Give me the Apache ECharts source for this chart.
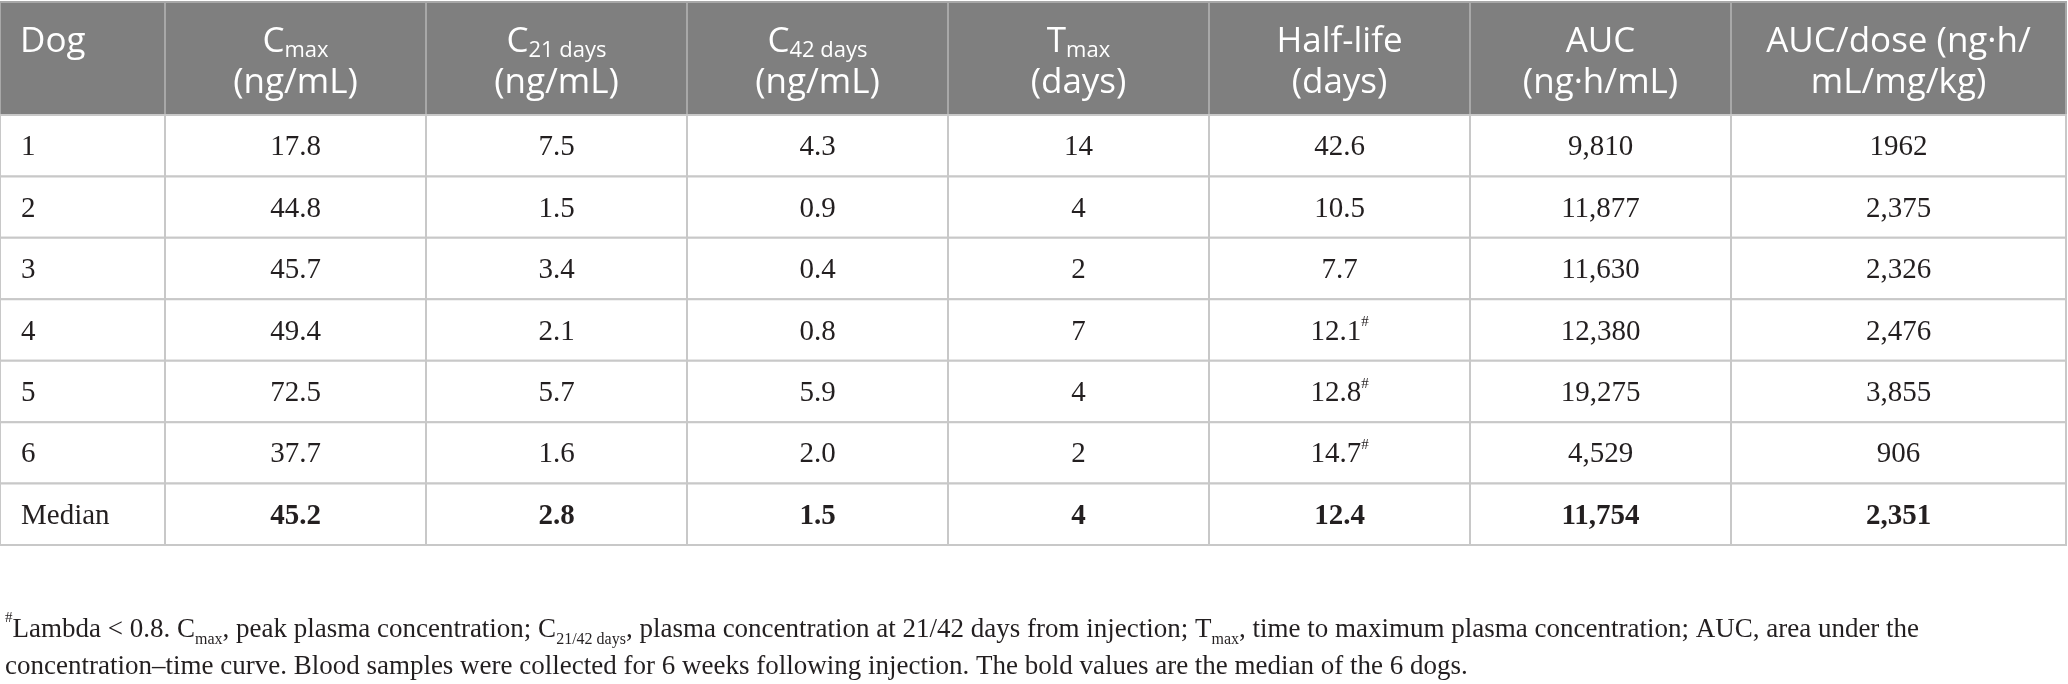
<!DOCTYPE html>
<html>
<head>
<meta charset="utf-8">
<script src="https://cdn.jsdelivr.net/npm/echarts@6/dist/echarts.min.js"></script>
<style>
html, body { margin: 0; padding: 0; background: #fff; }
#main { width: 2068px; height: 684px; }
</style>
</head>
<body>
<div id="main"></div>
<script>
// table values, one array per column
var dogs = ['1', '2', '3', '4', '5', '6', 'Median'];
var cmax = ['17.8', '44.8', '45.7', '49.4', '72.5', '37.7', '45.2'];
var c21 = ['7.5', '1.5', '3.4', '2.1', '5.7', '1.6', '2.8'];
var c42 = ['4.3', '0.9', '0.4', '0.8', '5.9', '2.0', '1.5'];
var tmax = ['14', '4', '2', '7', '4', '2', '4'];
var halfLife = ['42.6', '10.5', '7.7', '12.1', '12.8', '14.7', '12.4'];
var lambdaFlag = [false, false, false, true, true, true, false];
var auc = ['9,810', '11,877', '11,630', '12,380', '19,275', '4,529', '11,754'];
var aucDose = ['1962', '2,375', '2,326', '2,476', '3,855', '906', '2,351'];

var headLine1 = ['Dog', '{m|C}{s|max}', '{m|C}{s|21 days}', '{m|C}{s|42 days}', '{m|T}{s|max}', 'Half-life', 'AUC', 'AUC/dose (ng·h/'];
var headLine2 = ['', '(ng/mL)', '(ng/mL)', '(ng/mL)', '(days)', '(days)', '(ng·h/mL)', 'mL/mg/kg)'];

var footLine1 = '{sup|#}Lambda < 0.8. C{sub|max}, peak plasma concentration; C{sub|21/42 days}, plasma concentration at 21/42 days from injection; T{sub|max}, time to maximum plasma concentration; AUC, area under the';
var footLine2 = 'concentration–time curve. Blood samples were collected for 6 weeks following injection. The bold values are the median of the 6 dogs.';

// layout
var colWidths = [165, 261, 261, 261, 261, 261, 261, 335];
var colEdges = [0];
for (var i = 0; i < colWidths.length; i++) {
	colEdges.push(colEdges[i] + colWidths[i]);
}
var tableWidth = colEdges[colEdges.length - 1];

var bodyCols = [dogs, cmax, c21, c42, tmax, halfLife, auc, aucDose];
var bodyData = [];
for (var r = 0; r < dogs.length; r++) {
	for (var c = 0; c < bodyCols.length; c++) {
		bodyData.push([c, r]);
	}
}
var headData = headLine1.map(function (h, c) { return [c, 0]; });

var serif = '"Liberation Serif", "Times New Roman", serif';
var sans = '"Open Sans", "Noto Sans", sans-serif';

function cellBox(api) {
	var c = api.value(0), r = api.value(1);
	var a = api.coord([colEdges[c], r]);
	var b = api.coord([colEdges[c + 1], r]);
	var h = api.size([0, 1])[1];
	return { x: a[0], y: a[1] - h / 2, w: b[0] - a[0], h: h, c: c, r: r };
}

function renderHead(params, api) {
	var b = cellBox(api);
	var left = b.c === 0;
	var tx = left ? b.x + 20 : b.x + b.w / 2;
	var rich = {
		m: { fontSize: 35, fontFamily: sans, fill: '#fff', lineHeight: 40 },
		s: { fontSize: 22, fontFamily: sans, fill: '#fff', lineHeight: 27, verticalAlign: 'bottom' }
	};
	return {
		type: 'group',
		children: [
			{
				type: 'rect',
				shape: { x: b.x, y: b.y, width: b.w, height: b.h },
				style: { fill: '#7f7f7f', stroke: '#a8a8a8', lineWidth: 2 }
			},
			{
				type: 'text',
				x: tx, y: b.y + 40,
				style: {
					text: headLine1[b.c], fill: '#fff', fontSize: 35, fontFamily: sans,
					align: left ? 'left' : 'center', verticalAlign: 'middle', rich: rich
				}
			},
			{
				type: 'text',
				x: tx, y: b.y + 81,
				style: {
					text: headLine2[b.c], fill: '#fff', fontSize: 35, fontFamily: sans,
					align: left ? 'left' : 'center', verticalAlign: 'middle'
				}
			}
		]
	};
}

function renderBody(params, api) {
	var b = cellBox(api);
	var left = b.c === 0;
	var bold = b.r === dogs.length - 1 && b.c > 0;
	var txt = bodyCols[b.c][b.r];
	if (b.c === 5 && lambdaFlag[b.r]) txt += '{sup|#}';
	return {
		type: 'group',
		children: [
			{
				type: 'rect',
				shape: { x: b.x, y: b.y, width: b.w, height: b.h },
				style: { fill: '#fff', stroke: '#c8c8c8', lineWidth: 2 }
			},
			{
				type: 'text',
				x: left ? b.x + 21 : b.x + b.w / 2, y: b.y + b.h / 2 + 2,
				style: {
					text: txt, fill: '#231f20', fontSize: 29, fontFamily: serif,
					fontWeight: bold ? 'bold' : 'normal',
					align: left ? 'left' : 'center', verticalAlign: 'middle',
					rich: {
						sup: { fontSize: 15, fontFamily: serif, fill: '#231f20', lineHeight: 34, verticalAlign: 'top' }
					}
				}
			}
		]
	};
}

var chart = echarts.init(document.getElementById('main'));

var option = {
	animation: false,
	title: {
		left: 0,
		top: 606,
		text: footLine1 + '\n' + footLine2,
		textStyle: {
			fontFamily: serif,
			fontSize: 27,
			fontWeight: 'normal',
			color: '#231f20',
			lineHeight: 37,
			rich: {
				sub: { fontFamily: serif, fontSize: 16, color: '#231f20', lineHeight: 30, verticalAlign: 'bottom' },
				sup: { fontFamily: serif, fontSize: 15, color: '#231f20', lineHeight: 26, verticalAlign: 'top' }
			}
		}
	},
	grid: [
		{ left: 0, width: tableWidth, top: 2, height: 113 },
		{ left: 0, width: tableWidth, top: 115, height: 430 }
	],
	xAxis: [
		{ type: 'value', gridIndex: 0, min: 0, max: tableWidth, show: false },
		{ type: 'value', gridIndex: 1, min: 0, max: tableWidth, show: false }
	],
	yAxis: [
		{ type: 'category', gridIndex: 0, data: ['head'], inverse: true, show: false },
		{ type: 'category', gridIndex: 1, data: dogs, inverse: true, show: false }
	],
	series: [
		{
			type: 'custom',
			xAxisIndex: 0,
			yAxisIndex: 0,
			renderItem: renderHead,
			data: headData,
			silent: true
		},
		{
			type: 'custom',
			xAxisIndex: 1,
			yAxisIndex: 1,
			renderItem: renderBody,
			data: bodyData,
			silent: true
		}
	]
};

chart.setOption(option);
</script>
</body>
</html>
